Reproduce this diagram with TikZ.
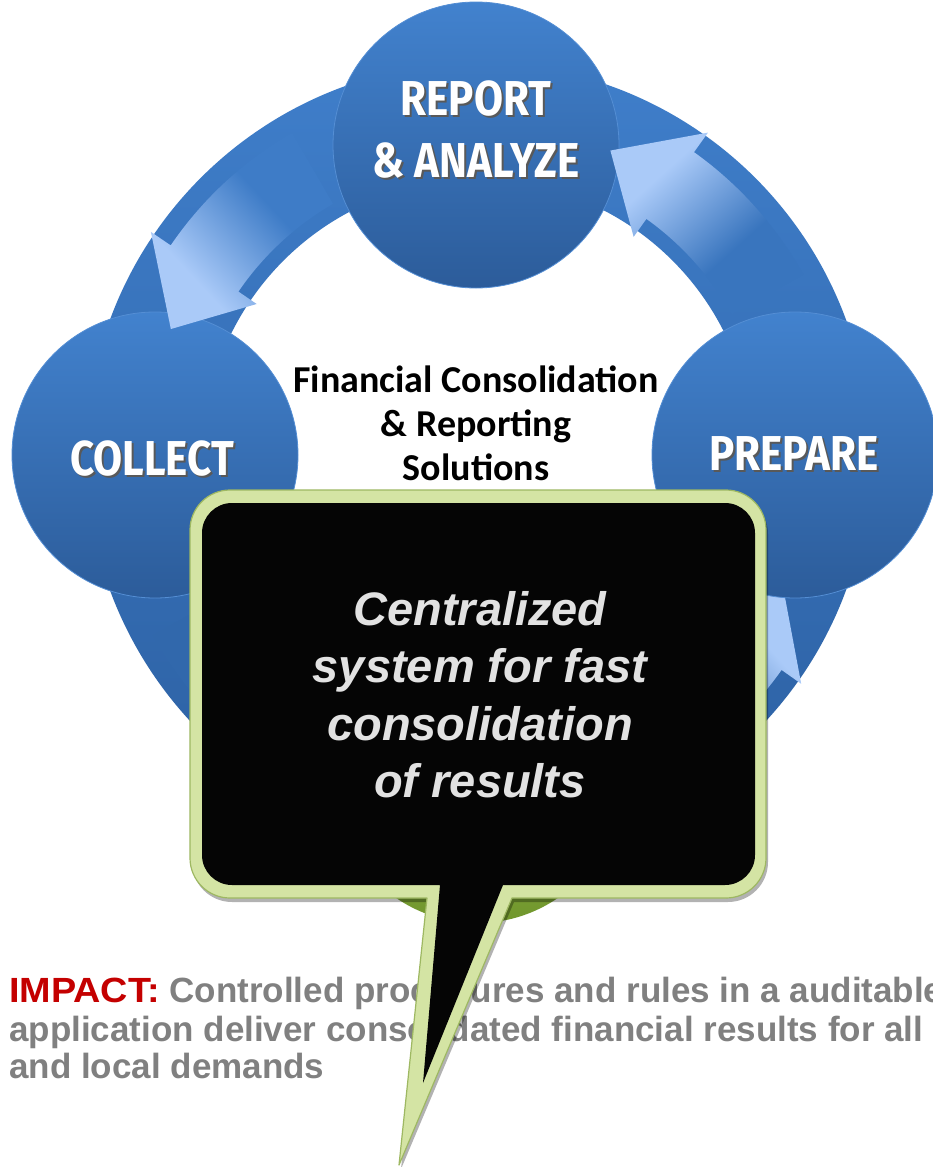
\documentclass[tikz,border=0pt]{standalone}
\usepackage{fontspec}
\setmainfont{Liberation Sans}
\newfontfamily\capfont{Fira Sans}[FakeStretch=0.86]
\newfontfamily\calfont{Carlito}
\usetikzlibrary{calc}
\definecolor{circtop}{RGB}{66,130,206}
\definecolor{circbot}{RGB}{44,92,154}
\definecolor{circedge}{RGB}{84,142,212}
\definecolor{ringtop}{RGB}{63,126,202}
\definecolor{ringbot}{RGB}{44,96,162}
\definecolor{ringL}{RGB}{62,124,199}
\definecolor{ringR}{RGB}{57,117,190}
\definecolor{ringB}{RGB}{49,104,172}
\definecolor{lightarrow}{RGB}{170,202,248}
\definecolor{greentop}{RGB}{176,206,98}
\definecolor{greenbot}{RGB}{112,150,44}
\definecolor{calloutfill}{RGB}{212,228,164}
\definecolor{calloutedge}{RGB}{158,184,98}
\definecolor{calltext}{RGB}{226,226,226}
\definecolor{impred}{RGB}{196,0,0}
\definecolor{impgray}{RGB}{128,128,128}
\pgfdeclarehorizontalshading{fadeL}{100bp}{color(0bp)=(ringL); color(40bp)=(ringL); color(68bp)=(lightarrow); color(100bp)=(lightarrow)}
\pgfdeclarehorizontalshading{fadeR}{100bp}{color(0bp)=(ringR); color(40bp)=(ringR); color(68bp)=(lightarrow); color(100bp)=(lightarrow)}
\pgfdeclarehorizontalshading{fadeB}{100bp}{color(0bp)=(ringB); color(40bp)=(ringB); color(68bp)=(lightarrow); color(100bp)=(lightarrow)}
\newcommand\ShTxt[1]{\makebox[0pt][l]{\hspace{2pt}\raisebox{-2pt}{\textcolor{black!65}{#1}}}#1}
\newcommand\ArcArrow[4]{%
  \shade[shading=#3, shading angle=#4] (#1:372) arc[start angle=#1, end angle=#2, radius=372]
    -- (#2:396) -- ({#2+12}:332) -- (#2:268) -- (#2:290)
    arc[start angle=#2, end angle=#1, radius=290] -- cycle;}
\begin{document}
\begin{tikzpicture}[x=1pt,y=1pt,
  bubble/.style={circle, minimum size=286pt, inner sep=0pt, top color=circtop, bottom color=circbot, draw=circedge, line width=0.8pt},
  captxt/.style={text=white, inner sep=0pt, align=center, font=\capfont\bfseries\fontsize{49}{62}\selectfont},
  midtxt/.style={anchor=base, inner sep=0pt, text=black, font=\calfont\bfseries\fontsize{38}{44}\selectfont},
  calltxt/.style={anchor=base, inner sep=0pt, text=calltext, font=\bfseries\itshape\fontsize{47}{57}\selectfont},
  imptxt/.style={anchor=base west, inner sep=0pt, text=impgray, font=\bfseries\fontsize{35}{38}\selectfont}]
\useasboundingbox (0,0) rectangle (933,-1167);
\clip (0,0) rectangle (933,-1167);
\fill[white] (0,0) rectangle (933,-1167);
% ring and hidden lower arrows
\begin{scope}[shift={(478,-455)}]
  \shade[top color=ringtop, bottom color=ringbot, even odd rule] (0,0) circle[radius=392] (0,0) circle[radius=275];
  \ArcArrow{299}{324.7}{fadeB}{42}
  \ArcArrow{209}{235}{fadeB}{312}
\end{scope}
% circles
\node[circle, minimum size=286pt, inner sep=0pt, top color=greentop, bottom color=greenbot] (analyze) at (477,-780) {};
\node[bubble] (report) at (476,-145) {};
\node[bubble] (collect) at (155,-455) {};
\node[bubble] (prepare) at (795,-455) {};
% upper arrows
\begin{scope}[shift={(478,-455)}]
  \ArcArrow{120}{145.7}{fadeL}{223}
  \ArcArrow{29}{54.5}{fadeR}{132}
\end{scope}
% circle labels
\node[captxt] (report-t) at (476,-131) {\ShTxt{REPORT}\\\ShTxt{\& ANALYZE}};
\node[captxt] (collect-t) at (152,-460) {\ShTxt{COLLECT}};
\node[captxt] (prepare-t) at (794,-455) {\ShTxt{PREPARE}};
% middle title
\node[midtxt] (mid1) at (476,-392) {Financial Consolidation};
\node[midtxt] (mid2) at (476,-436) {\& Reporting};
\node[midtxt] (mid3) at (476,-480) {Solutions};
% impact text
\node[imptxt] (imp1) at (9,-1002) {\textcolor{impred}{\scalebox{1.08}[1]{IMPACT:}} Controlled procedures and rules in a auditable};
\node[imptxt] (imp2) at (9,-1041) {application deliver consolidated financial results for all global};
\node[imptxt] (imp3) at (9,-1078) {and local demands};
% callout
\fill[black, opacity=0.3, shift={(2,-4)}] (230,-490) -- (726,-490) arc[start angle=90, end angle=0, radius=40] -- (766,-858) arc[start angle=0, end angle=-90, radius=40] -- (512,-898) -- (399,-1165) -- (427,-898) -- (230,-898) arc[start angle=270, end angle=180, radius=40] -- (190,-530) arc[start angle=180, end angle=90, radius=40] -- cycle;
\path[fill=calloutfill, draw=calloutedge, line width=1.2pt, line join=round] (230,-490) -- (726,-490) arc[start angle=90, end angle=0, radius=40] -- (766,-858) arc[start angle=0, end angle=-90, radius=40] -- (512,-898) -- (399,-1165) -- (427,-898) -- (230,-898) arc[start angle=270, end angle=180, radius=40] -- (190,-530) arc[start angle=180, end angle=90, radius=40] -- cycle;
\fill[black!98] (232,-503) -- (725,-503) arc[start angle=90, end angle=0, radius=30] -- (755,-855) arc[start angle=0, end angle=-90, radius=30] -- (503,-885) -- (423,-1083) -- (440,-885) -- (232,-885) arc[start angle=270, end angle=180, radius=30] -- (202,-533) arc[start angle=180, end angle=90, radius=30] -- cycle;
% callout text
\node[calltxt] (call1) at (480,-625) {Centralized};
\node[calltxt] (call2) at (480,-682) {system for fast};
\node[calltxt] (call3) at (480,-740) {consolidation};
\node[calltxt] (call4) at (480,-797) {of results};
\end{tikzpicture}
\end{document}
